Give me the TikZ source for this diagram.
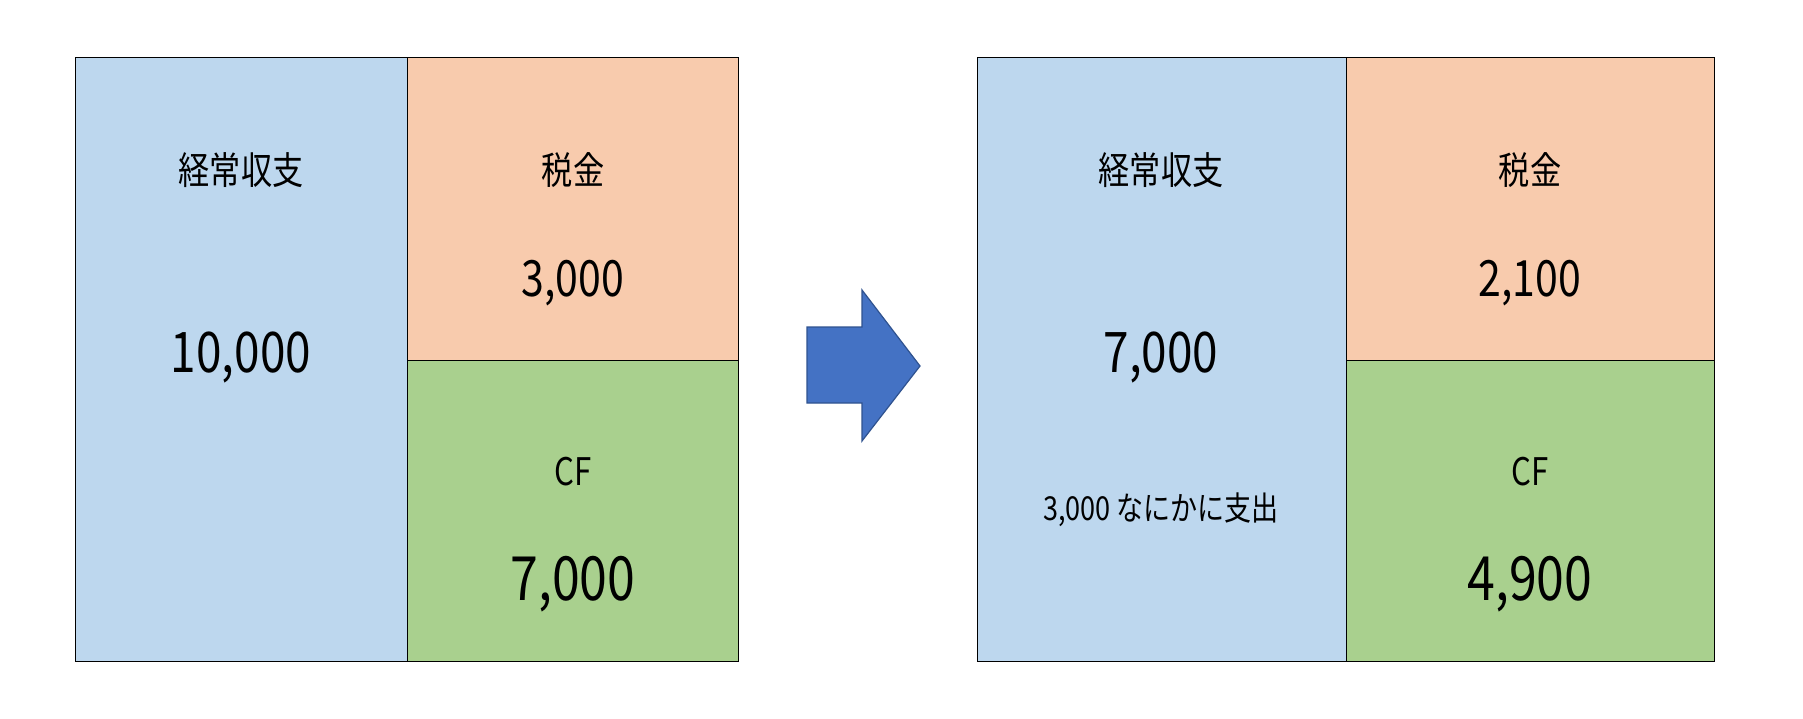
\documentclass[tikz,border=0pt]{standalone}
\usepackage{fontspec}
\setmainfont{Noto Sans CJK JP}[FakeStretch=0.82]
\usepackage{tikz}
\usetikzlibrary{positioning}

\definecolor{keijoblue}{HTML}{BDD7EE}
\definecolor{zeiorange}{HTML}{F8CBAD}
\definecolor{cfgreen}{HTML}{A9D08E}
\definecolor{arrowblue}{HTML}{4472C4}
\definecolor{arrowedge}{HTML}{2F528F}

\begin{document}
\begin{tikzpicture}[x=1pt, y=-1pt,
        box/.style = {draw=black, line width=1pt},
        head/.style = {font=\fontsize{38}{42}\selectfont, inner sep=0pt},
        big/.style = {font=\fontsize{56}{60}\selectfont, inner sep=0pt},
        mid/.style = {font=\fontsize{50}{54}\selectfont, inner sep=0pt},
        huge/.style = {font=\fontsize{61}{66}\selectfont, inner sep=0pt},
        note/.style = {font=\fontsize{33}{36}\selectfont, inner sep=0pt}]
        \useasboundingbox[fill=white] (0, 0) rectangle (1803, 719);

        % before
        \filldraw[box, fill=keijoblue] (75, 58) rectangle (407, 661);
        \filldraw[box, fill=zeiorange] (407, 58) rectangle (738, 360);
        \filldraw[box, fill=cfgreen] (407, 360) rectangle (738, 661);

        \node[head] at (241, 170) (keijoA) {経常収支};
        \node[big] at (241, 357) (keijoValA) {10,000};
        \node[head] at (573, 170) (zeiA) {税金};
        \node[mid] at (573, 283) (zeiValA) {3,000};
        \node[head] at (573, 472) (cfA) {CF};
        \node[huge] at (573, 584) (cfValA) {7,000};

        % arrow
        \filldraw[fill=arrowblue, draw=arrowedge, line width=1.2pt]
            (807, 327) -- (862, 327) -- (862, 290) -- (920, 366)
            -- (862, 441) -- (862, 403) -- (807, 403) -- cycle;

        % after
        \filldraw[box, fill=keijoblue] (977, 58) rectangle (1346, 661);
        \filldraw[box, fill=zeiorange] (1346, 58) rectangle (1714, 360);
        \filldraw[box, fill=cfgreen] (1346, 360) rectangle (1714, 661);

        \node[head] at (1161, 170) (keijoB) {経常収支};
        \node[big] at (1161, 357) (keijoValB) {7,000};
        \node[note] at (1161, 510) (spend) {3,000 なにかに支出};
        \node[head] at (1530, 170) (zeiB) {税金};
        \node[mid] at (1530, 283) (zeiValB) {2,100};
        \node[head] at (1530, 472) (cfB) {CF};
        \node[huge] at (1530, 584) (cfValB) {4,900};
\end{tikzpicture}
\end{document}
